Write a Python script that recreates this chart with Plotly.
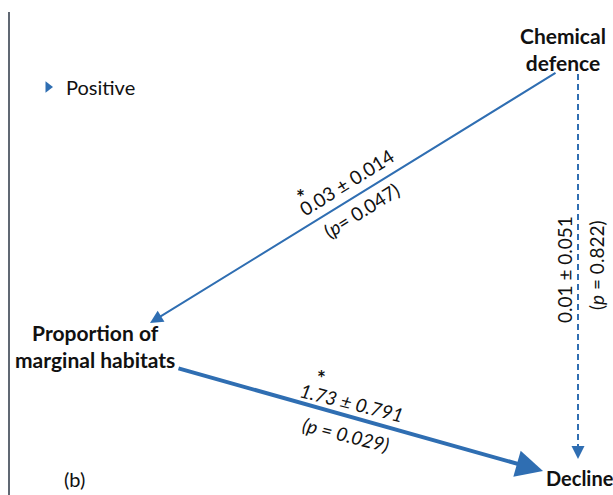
import plotly.graph_objects as go

# Path model: nodes and standardised path estimates
nodes = ["Chemical<br>defence", "Proportion of<br>marginal habitats", "Decline"]
paths_from = ["Chemical defence", "Proportion of marginal habitats", "Chemical defence"]
paths_to = ["Proportion of marginal habitats", "Decline", "Decline"]
estimates = [0.03, 1.73, 0.01]
std_errors = [0.014, 0.791, 0.051]
p_values = [0.047, 0.029, 0.822]
legend_labels = ["Positive"]
panel_label = "(b)"

BLUE = "#2F6EB2"
INK = "#111111"
FONT = "Lato"

# Canvas coordinates (pixels, y pointing down); anchor, font size per node
node_pos = {
    "Chemical defence": (563, 49, "center", 21),
    "Proportion of marginal habitats": (95, 346, "center", 21),
    "Decline": (544, 478, "left", 20),
}
path_geom = [
    dict(tail=(557, 72), tip=(150, 323), width=2, head=1.3, dash=None),
    dict(tail=(177, 368), tip=(543, 471), width=4, head=1.35, dash=None),
    dict(tail=(578, 74), tip=(578, 459), width=2, head=1.3, dash="dash"),
]
label_geom = [
    dict(est=(346, 182), p=(361, 210), star=(300, 196), angle=-32),
    dict(est=(352, 402), p=(346, 434), star=(321, 377), angle=14),
    dict(est=(564, 270), p=(596, 265), star=None, angle=-90),
]

fig = go.Figure()

# Left frame rule
fig.add_trace(go.Scatter(x=[9, 9], y=[12, 495], mode="lines",
                         line=dict(color="#2B3644", width=1.5),
                         hoverinfo="skip", showlegend=False))

# Legend marker
fig.add_trace(go.Scatter(x=[48], y=[87], mode="markers",
                         marker=dict(symbol="triangle-right", size=10, color=BLUE),
                         hoverinfo="skip", showlegend=False))

annotations = []
annotations.append(dict(x=64, y=87, text=legend_labels[0], showarrow=False,
                        xanchor="left", yanchor="middle",
                        font=dict(family=FONT, size=20, color=INK)))
annotations.append(dict(x=74, y=479, text=panel_label, showarrow=False,
                        xanchor="center", yanchor="middle",
                        font=dict(family=FONT, size=20, color=INK)))

for name in nodes:
    key = name.replace("<br>", " ")
    x, y, anchor, size = node_pos[key]
    annotations.append(dict(x=x, y=y, text="<b>" + name + "</b>", showarrow=False,
                            xanchor=anchor, yanchor="middle",
                            font=dict(family=FONT, size=size, color=INK)))

for i, g in enumerate(path_geom):
    (tx, ty), (hx, hy) = g["tail"], g["tip"]
    if g["dash"]:
        # dashed shaft, then an arrowhead drawn on its end
        fig.add_trace(go.Scatter(x=[tx, hx], y=[ty, hy - 6], mode="lines",
                                 line=dict(color=BLUE, width=g["width"], dash="6px,4px"),
                                 hoverinfo="skip", showlegend=False))
        annotations.append(dict(x=hx, y=hy, ax=hx, ay=hy - 12, xref="x", yref="y",
                                axref="x", ayref="y", showarrow=True, text="",
                                arrowhead=2, arrowsize=g["head"], arrowwidth=g["width"],
                                arrowcolor=BLUE, standoff=0))
    else:
        annotations.append(dict(x=hx, y=hy, ax=tx, ay=ty, xref="x", yref="y",
                                axref="x", ayref="y", showarrow=True, text="",
                                arrowhead=2, arrowsize=g["head"], arrowwidth=g["width"],
                                arrowcolor=BLUE, standoff=0))

for i, lg in enumerate(label_geom):
    est_txt = f"{estimates[i]:.2f} \u00b1 {std_errors[i]:.3f}"
    sep = "= " if i == 0 else " = "
    p_txt = f"(<i>p</i>{sep}{p_values[i]:.3f})"
    if i == 1:
        est_txt = "<i>" + est_txt + "</i>"
        p_txt = "<i>" + p_txt + "</i>"
    annotations.append(dict(x=lg["est"][0], y=lg["est"][1], text=est_txt, showarrow=False,
                            textangle=lg["angle"], xanchor="center", yanchor="middle",
                            font=dict(family=FONT, size=19, color=INK)))
    annotations.append(dict(x=lg["p"][0], y=lg["p"][1], text=p_txt, showarrow=False,
                            textangle=lg["angle"], xanchor="center", yanchor="middle",
                            font=dict(family=FONT, size=19, color=INK)))
    if lg["star"] and p_values[i] < 0.05:
        annotations.append(dict(x=lg["star"][0], y=lg["star"][1], text="<b>*</b>", showarrow=False,
                                xanchor="center", yanchor="middle",
                                font=dict(family=FONT, size=21, color=INK)))

fig.update_layout(
    width=613, height=495,
    margin=dict(l=0, r=0, t=0, b=0),
    paper_bgcolor="white", plot_bgcolor="white",
    xaxis=dict(range=[0, 613], visible=False, fixedrange=True),
    yaxis=dict(range=[495, 0], visible=False, fixedrange=True),
    annotations=annotations,
    showlegend=False,
)

fig.write_html("out.html")
